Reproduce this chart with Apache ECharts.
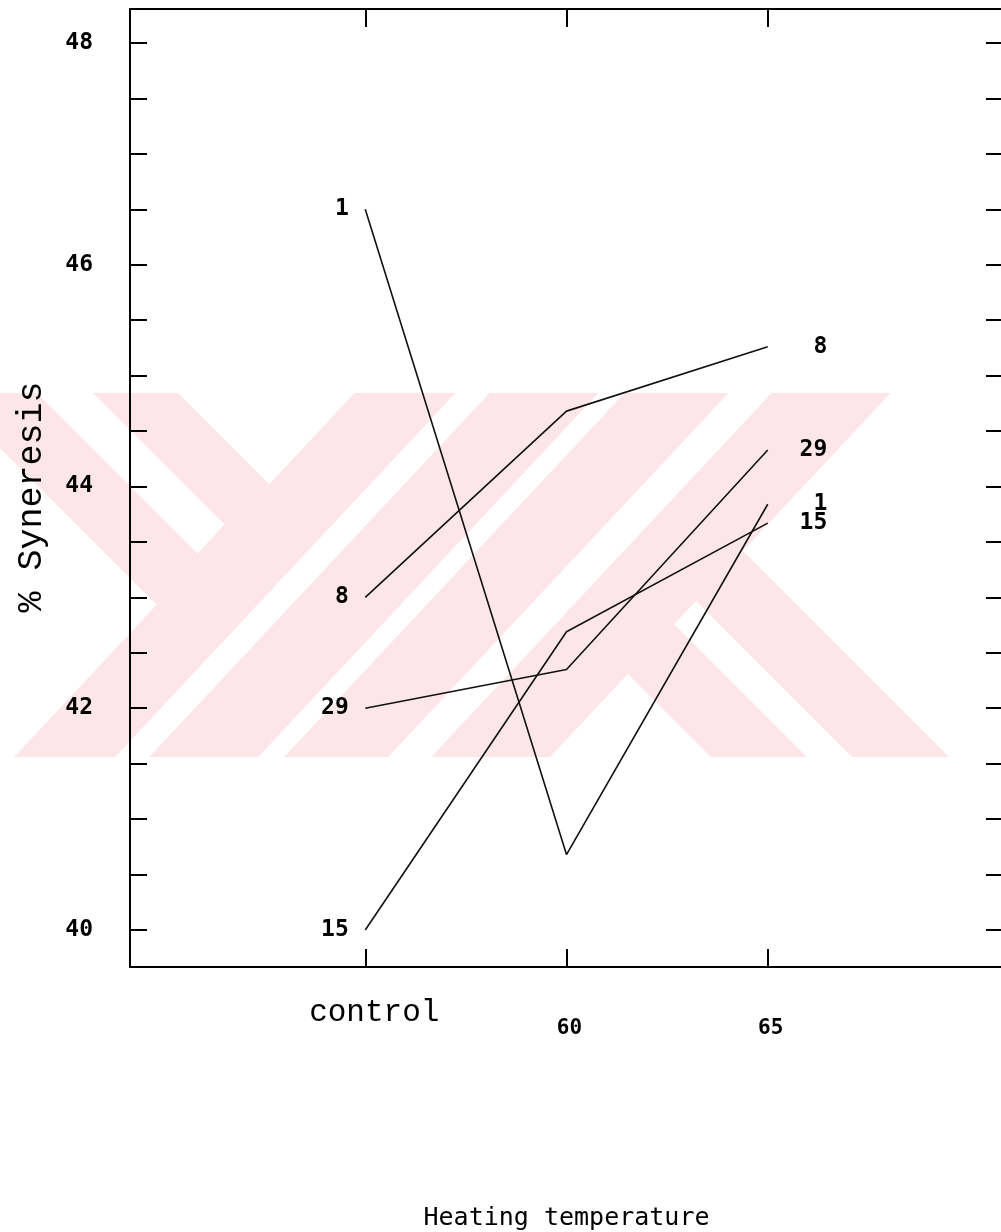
<!DOCTYPE html>
<html>
<head>
<meta charset="utf-8">
<script src="https://cdn.jsdelivr.net/npm/echarts@6/dist/echarts.min.js"></script>
<style>
  html, body { margin: 0; padding: 0; background: #fff; }
  #chart { width: 1001px; height: 1232px; }
</style>
</head>
<body>
<div id="chart"></div>
<script>
// Heating temperature categories (x positions 0, 1, 2)
const categories = ['control', '60', '65'];

// % syneresis per sample, in category order
const seriesNames = ['1', '8', '29', '15'];
const sample1 = [46.5, 40.68, 43.84];
const sample8 = [43.0, 44.68, 45.26];
const sample29 = [42.0, 42.35, 44.33];
const sample15 = [40.0, 42.69, 43.67];

// y axis labels and tick marks
const yTickLabels = [40, 42, 44, 46, 48];
const yTickMarks = [40, 40.5, 41, 41.5, 42, 42.5, 43, 43.5, 44, 44.5, 45, 45.5, 46, 46.5, 47, 47.5, 48];
const xTickMarks = [0, 1, 2];

const sampleValues = [sample1, sample8, sample29, sample15];

// Pale watermark bands, given in skewed coordinates u = x + A*y, v = x - y
const WM_TOP = 393, WM_BOTTOM = 757, WM_A = 0.935;
const WM_PINK = '#fde6ea';
const wmPinkBands = [
  [-3000, 722, -448, -215],
  [722, 1258, -3000, 3000],
  [1258, 3000, -46, 192]
];
const wmWhiteBands = [
  [-3000, 715, -356, -300],
  [823, 857, -3000, 3000],
  [966, 992, -3000, 3000],
  [1096, 1139, -3000, 3000],
  [1258, 3000, 50, 95]
];

function clipPoly(pts, keep, cross) {
  const out = [];
  for (let i = 0; i < pts.length; i++) {
    const a = pts[i], b = pts[(i + 1) % pts.length];
    const ina = keep(a), inb = keep(b);
    if (ina) out.push(a);
    if (ina !== inb) out.push(cross(a, b));
  }
  return out;
}
function atY(a, b, y) {
  const t = (y - a[1]) / (b[1] - a[1]);
  return [a[0] + t * (b[0] - a[0]), y];
}
function uvToXY(u, v) {
  const y = (u - v) / (1 + WM_A);
  return [v + y, y];
}
function bandPolygon(b) {
  const [u1, u2, v1, v2] = b;
  let pts = [[u1, v1], [u2, v1], [u2, v2], [u1, v2]].map(([u, v]) => uvToXY(u, v));
  pts = clipPoly(pts, p => p[1] >= WM_TOP, (a, c) => atY(a, c, WM_TOP));
  pts = clipPoly(pts, p => p[1] <= WM_BOTTOM, (a, c) => atY(a, c, WM_BOTTOM));
  return pts;
}
const watermark = []
  .concat(wmPinkBands.map(b => ({ type: 'polygon', z: -10, silent: true, shape: { points: bandPolygon(b) }, style: { fill: WM_PINK } })))
  .concat(wmWhiteBands.map(b => ({ type: 'polygon', z: -10, silent: true, shape: { points: bandPolygon(b) }, style: { fill: '#ffffff' } })));

const DIGIT_FONT = 'DejaVu Sans Mono';
const TEXT_FONT = 'Liberation Mono';
const X_MIN = -1.169, X_MAX = 3.169;
const Y_MIN = 39.666, Y_MAX = 48.307;

function makeSeries(name, values) {
  const last = values.length - 1;
  return {
    type: 'line',
    name: name,
    xAxisIndex: 0,
    yAxisIndex: 0,
    data: values.map((v, i) => ({
      value: [i, v],
      label: i === 0
        ? { show: true, position: 'left', distance: 16 }
        : i === last
          ? { show: true, position: 'right', distance: 59, align: 'right' }
          : { show: false }
    })),
    symbol: 'circle',
    symbolSize: 1,
    showSymbol: true,
    itemStyle: { color: 'rgba(0,0,0,0)' },
    lineStyle: { color: '#111', width: 1.6 },
    label: {
      formatter: name,
      color: '#000',
      fontFamily: DIGIT_FONT,
      fontSize: 23,
      fontWeight: 'bold',
      verticalAlign: 'middle'
    },
    silent: true,
    animation: false
  };
}

const chart = echarts.init(document.getElementById('chart'), null, { renderer: 'canvas' });
chart.setOption({
  animation: false,
  backgroundColor: '#ffffff',
  graphic: watermark,
  grid: { left: 130, right: -2, top: 9, bottom: 265, containLabel: false, outerBoundsMode: 'none' },
  xAxis: [{
    type: 'value',
    position: 'bottom',
    min: X_MIN,
    max: X_MAX,
    axisLine: { show: true, onZero: false, lineStyle: { color: '#000', width: 2 } },
    axisTick: { show: true, inside: true, length: 18, customValues: xTickMarks, lineStyle: { color: '#000', width: 2 } },
    axisLabel: {
      show: true,
      customValues: xTickMarks,
      margin: 30,
      formatter: function (v) {
        const i = Math.round(v);
        return i === 0 ? '{c|' + categories[i] + '}' : '{n|' + categories[i] + '}';
      },
      rich: {
        c: { fontFamily: TEXT_FONT, fontSize: 31, color: '#000', lineHeight: 32, padding: [0, 0, 0, 18] },
        n: { fontFamily: DIGIT_FONT, fontSize: 21, color: '#000', fontWeight: 'bold', lineHeight: 22, padding: [42, 0, 0, 6] }
      }
    },
    splitLine: { show: false },
    name: 'Heating temperature',
    nameLocation: 'middle',
    nameGap: 251,
    nameTextStyle: { fontFamily: DIGIT_FONT, fontSize: 25, color: '#000', verticalAlign: 'middle' }
  }, {
    type: 'value',
    position: 'top',
    min: X_MIN,
    max: X_MAX,
    axisLine: { show: true, onZero: false, lineStyle: { color: '#000', width: 2 } },
    axisTick: { show: true, inside: true, length: 18, customValues: xTickMarks, lineStyle: { color: '#000', width: 2 } },
    axisLabel: { show: false },
    splitLine: { show: false }
  }],
  yAxis: [{
    type: 'value',
    position: 'left',
    min: Y_MIN,
    max: Y_MAX,
    axisLine: { show: true, onZero: false, lineStyle: { color: '#000', width: 2 } },
    axisTick: { show: true, inside: true, length: 17, customValues: yTickMarks, lineStyle: { color: '#000', width: 2 } },
    axisLabel: {
      show: true,
      customValues: yTickLabels,
      margin: 37,
      fontFamily: DIGIT_FONT,
      fontSize: 23,
      fontWeight: 'bold',
      color: '#000'
    },
    splitLine: { show: false },
    name: '% Syneresis',
    nameLocation: 'middle',
    nameRotate: 90,
    nameGap: 81,
    nameTextStyle: { fontFamily: TEXT_FONT, fontSize: 35, color: '#000', padding: [0, 18, 0, 0] }
  }, {
    type: 'value',
    position: 'right',
    min: Y_MIN,
    max: Y_MAX,
    axisLine: { show: true, onZero: false, lineStyle: { color: '#000', width: 2 } },
    axisTick: { show: true, inside: true, length: 17, customValues: yTickMarks, lineStyle: { color: '#000', width: 2 } },
    axisLabel: { show: false },
    splitLine: { show: false }
  }],
  series: seriesNames.map((n, k) => makeSeries(n, sampleValues[k]))
});
</script>
</body>
</html>
